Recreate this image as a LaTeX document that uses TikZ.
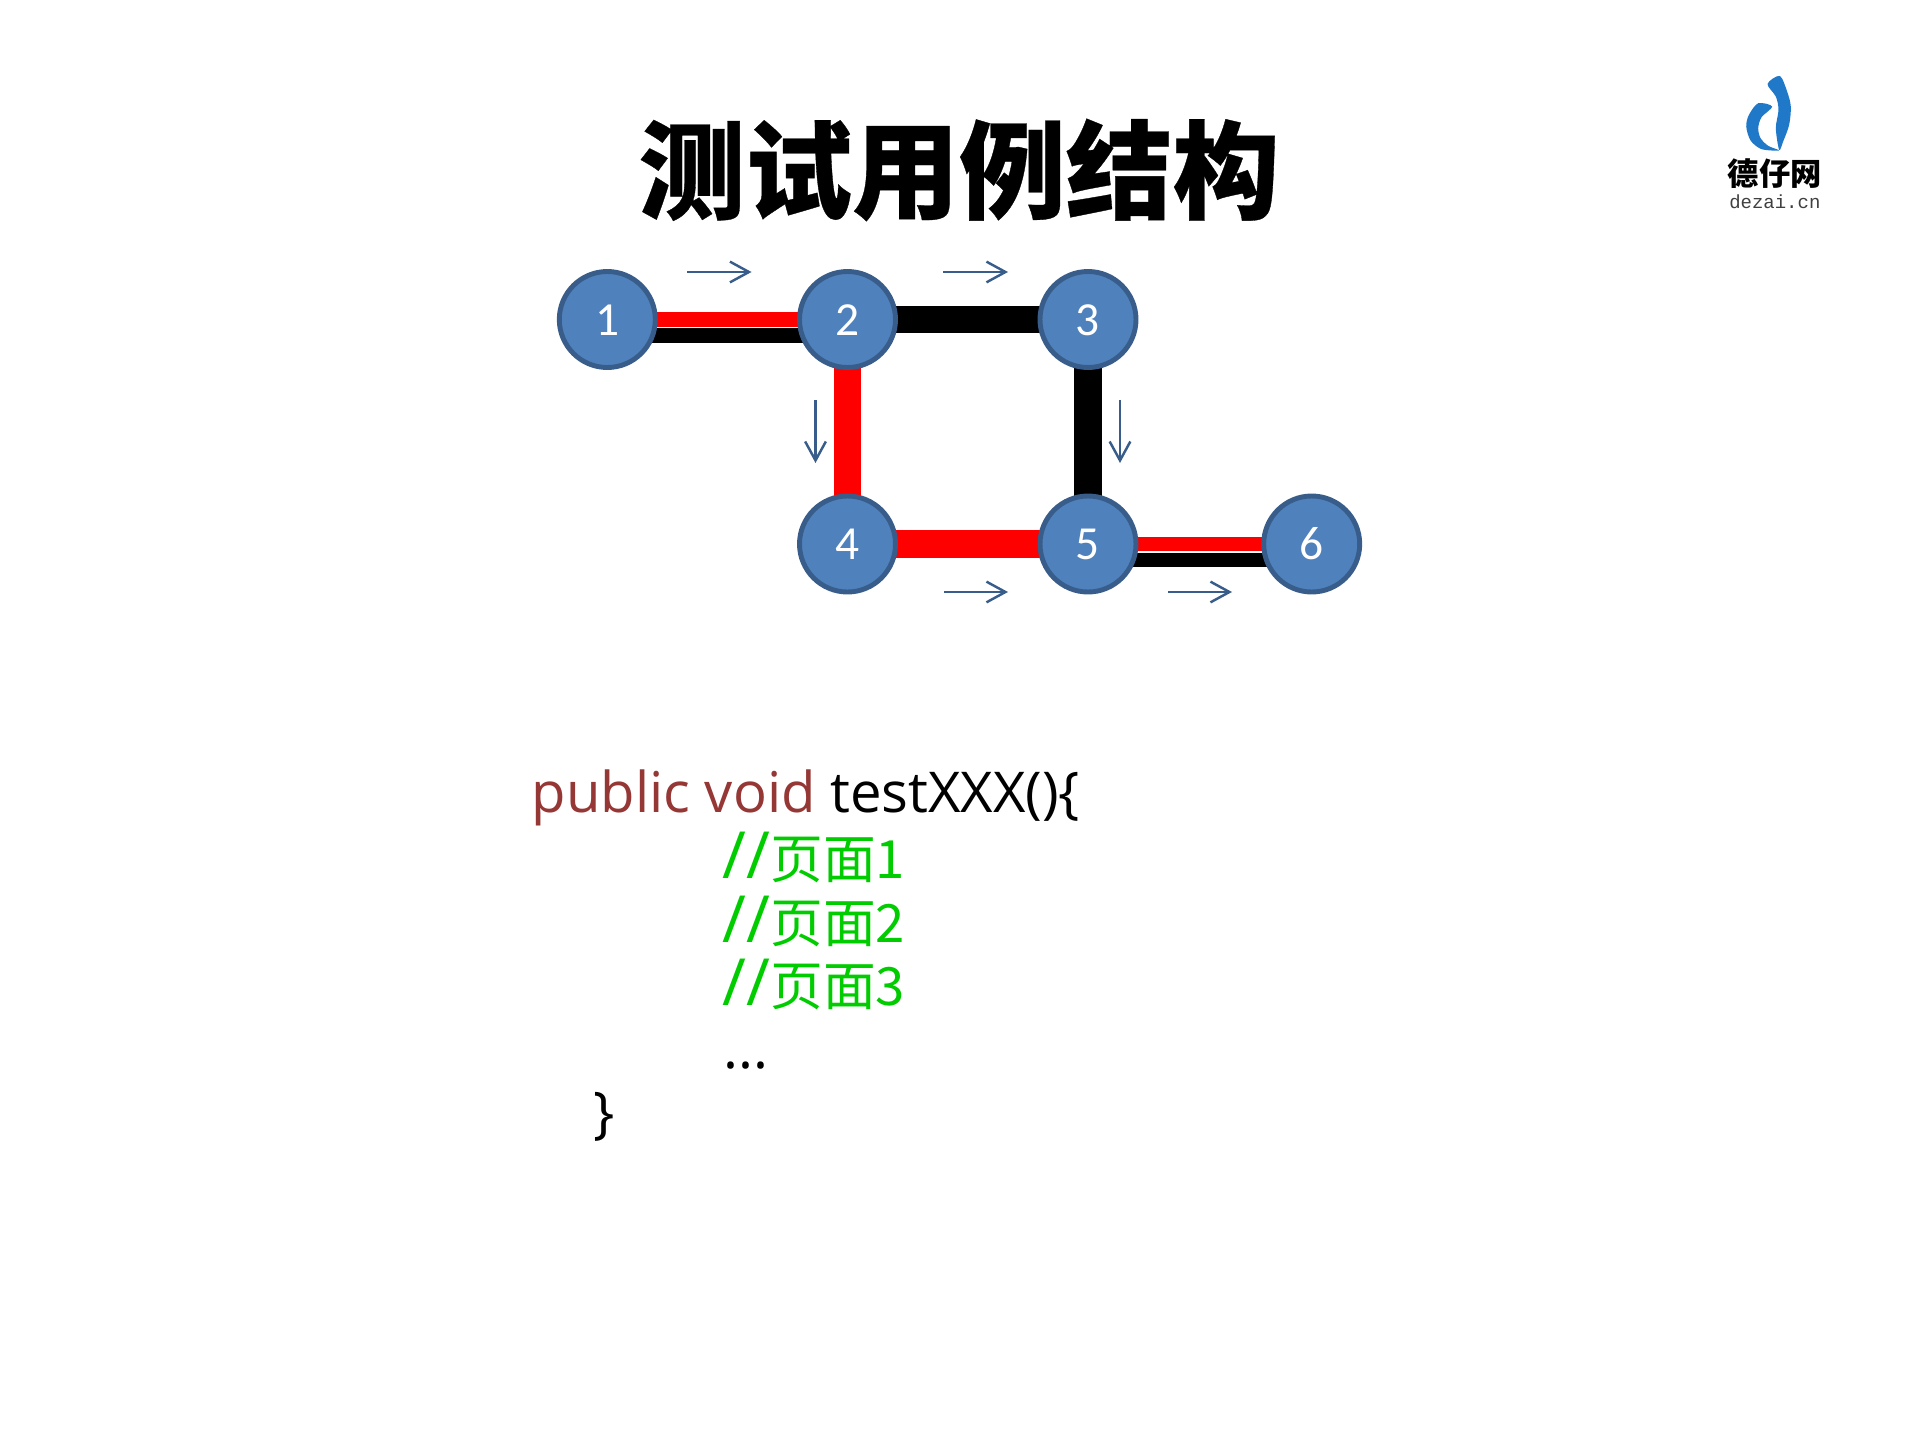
\documentclass[tikz,border=0pt]{standalone}
\usepackage{fontspec}
\setmainfont{Open Sans}
\newfontfamily\cjkfont{Noto Sans CJK SC}
\newfontfamily\titlefont{Noto Sans CJK SC Black}[AutoFakeBold=0.3]
\newfontfamily\digitfont{Carlito}
\newfontfamily\logofont{Liberation Mono}
\usetikzlibrary{arrows.meta, positioning, backgrounds}

\definecolor{nodeblue}{HTML}{4F81BD}
\definecolor{edgeblue}{HTML}{385D8A}
\definecolor{keybrown}{HTML}{953735}
\definecolor{notegreen}{HTML}{00CC00}
\definecolor{logoblue}{HTML}{1F78C8}

\newcommand{\notetext}[1]{{\fontsize{18.5}{19}\selectfont //}\cjkfont\fontsize{15}{16}\selectfont #1}

\tikzset{
  page/.style={circle, draw=edgeblue, line width=1.4pt, fill=nodeblue, text=white, minimum size=0.96cm, inner sep=0pt, text height=9pt, text depth=0pt, font=\digitfont\fontsize{13.5}{14}\selectfont},
  wide/.style={line width=7.8pt},
  slim/.style={line width=4.2pt},
  hint/.style={draw=edgeblue, line width=0.7pt, -{Straight Barb[length=5.4pt, width=5.9pt]}},
  code/.style={anchor=base west, inner sep=0pt, font=\fontsize{16}{16}\selectfont}
}

\begin{document}
\begin{tikzpicture}
\useasboundingbox (0, 0) rectangle (19.19, 14.39);

\node[page] (p1) at (6.073, 11.195) {1};
\node[page] (p2) at (8.475, 11.195) {2};
\node[page] (p3) at (10.88, 11.195) {3};
\node[page] (p4) at (8.475, 8.95) {4};
\node[page] (p5) at (10.88, 8.95) {5};
\node[page] (p6) at (13.117, 8.95) {6};

% thick links go under the circles
\begin{scope}[on background layer]
\draw[slim, red] (p1.center) -- (p2.center);
\draw[slim, black] ([yshift=-0.16cm]p1.center) -- ([yshift=-0.16cm]p2.center);
\draw[wide, black] (p2.center) -- (p3.center);
\draw[wide, red] (p2.center) -- (p4.center);
\draw[wide, black] (p3.center) -- (p5.center);
\draw[wide, red] (p4.center) -- (p5.center);
\draw[slim, red] (p5.center) -- (p6.center);
\draw[slim, black] ([yshift=-0.16cm]p5.center) -- ([yshift=-0.16cm]p6.center);
\end{scope}

\coordinate (a1) at (6.87, 11.67);
\coordinate (b1) at (7.515, 11.67);
\coordinate (a2) at (9.43, 11.67);
\coordinate (b2) at (10.08, 11.67);
\coordinate (a3) at (8.155, 10.39);
\coordinate (b3) at (8.155, 9.76);
\coordinate (a4) at (11.20, 10.39);
\coordinate (b4) at (11.20, 9.76);
\coordinate (a5) at (9.44, 8.47);
\coordinate (b5) at (10.08, 8.47);
\coordinate (a6) at (11.68, 8.47);
\coordinate (b6) at (12.32, 8.47);
\foreach \i in {1, ..., 6} {
  \draw[hint] (a\i) -- (b\i);
}

\node[font=\titlefont\bfseries\fontsize{30.4}{31}\selectfont] (title) at (9.59, 12.69) {测试用例结构};

\node[code, text=keybrown] (kw) at (5.31, 6.27) {public void};
\node[code, right=0.13cm of kw.base east, anchor=base west] (name) {testXXX()\{};
\node[code, text=notegreen] (c1) at (7.22, 5.605) {\notetext{页面1}};
\node[code, text=notegreen] (c2) at (7.22, 4.97) {\notetext{页面2}};
\node[code, text=notegreen] (c3) at (7.22, 4.335) {\notetext{页面3}};
\node[code] (dots) at (7.23, 3.71) {...};
\node[code] (close) at (5.93, 3.07) {\}};

% logo, in crop pixels
\begin{scope}[shift={(17, 13.79)}, x=0.00333cm, y=-0.00333cm]
\fill[logoblue] plot[smooth cycle] coordinates {(203,72) (240,48) (262,95) (273,140) (268,195) (250,245) (238,270) (228,205) (236,150) (228,110)};
\fill[logoblue] plot[smooth cycle] coordinates {(217,140) (175,130) (147,165) (139,200) (152,242) (185,268) (238,272) (205,258) (182,235) (175,205) (185,172)};
\node[font=\cjkfont\bfseries\fontsize{8.9}{9}\selectfont] (logotext) at (225, 342) {德仔网};
\node[font=\logofont\fontsize{5.4}{6}\selectfont, text=black!75] (logosite) at (225, 425) {dezai.cn};
\end{scope}
\end{tikzpicture}
\end{document}
